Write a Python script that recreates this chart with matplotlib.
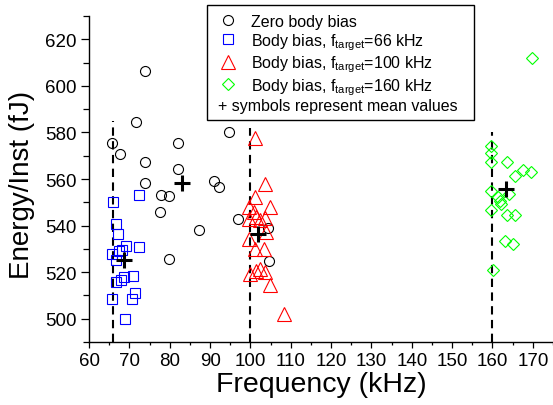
import matplotlib
matplotlib.use("Agg")
import matplotlib.pyplot as plt
from matplotlib.lines import Line2D
from matplotlib.patches import Rectangle
from matplotlib.ticker import MultipleLocator

plt.rcParams["font.family"] = ["Liberation Sans", "DejaVu Sans"]
plt.rcParams["mathtext.fontset"] = "custom"
plt.rcParams["mathtext.rm"] = "Liberation Sans"
plt.rcParams["mathtext.it"] = "Liberation Sans:italic"
plt.rcParams["mathtext.bf"] = "Liberation Sans:bold"

# Zero body bias (open circles)
zero_x = [73.8, 71.7, 65.7, 67.7, 73.8, 82.1, 82.1, 73.8, 94.6, 91.0,
          92.3, 77.9, 79.8, 77.7, 87.2, 79.7, 97.0, 104.4, 104.6]
zero_y = [606.5, 584.4, 575.6, 570.6, 567.3, 575.5, 564.4, 558.2, 580.3, 559.2,
          556.8, 553.2, 552.6, 545.9, 538.2, 525.5, 542.8, 538.8, 524.9]

# Body bias, f_target = 66 kHz (blue squares)
bb66_x = [65.9, 72.5, 66.6, 67.2, 65.8, 66.7, 67.4, 68.2, 69.2, 72.5,
          66.6, 68.0, 68.6, 70.8, 65.8, 70.7, 71.5, 69.0]
bb66_y = [550.3, 553.2, 540.7, 536.4, 527.8, 525.3, 529.0, 529.6, 531.1, 530.9,
          515.6, 516.8, 518.0, 518.2, 508.4, 508.4, 511.2, 500.0]

# Body bias, f_target = 100 kHz (red triangles)
bb100_x = [101.1, 103.5, 101.2, 104.8, 99.6, 100.9, 101.5, 102.3, 103.5, 99.6,
           103.9, 99.6, 101.1, 103.4, 99.8, 101.5, 102.5, 103.7, 104.8, 108.4]
bb100_y = [577.6, 557.9, 552.2, 548.2, 548.2, 545.7, 543.8, 542.3, 543.1, 542.8,
           537.1, 534.2, 529.9, 529.9, 519.1, 520.6, 521.3, 520.2, 514.5, 501.9]

# Body bias, f_target = 160 kHz (green diamonds)
bb160_x = [159.6, 159.6, 159.6, 163.7, 165.5, 167.6, 169.6, 159.6, 161.4, 161.8,
           162.2, 164.0, 159.6, 163.7, 165.7, 163.1, 165.1, 160.2, 169.7]
bb160_y = [574.4, 571.3, 567.3, 567.3, 561.5, 563.7, 563.0, 555.0, 552.2, 550.7,
           549.3, 553.6, 546.7, 544.6, 544.6, 533.5, 532.1, 521.0, 611.8]

# mean values (+ symbols)
mean_x = [83.0, 68.6, 102.0, 163.4]
mean_y = [558.5, 525.3, 536.4, 555.8]

# target frequencies (dashed lines) and where each line stops
target_freqs = [66, 100, 160]
target_tops = [585, 582, 580]

fig = plt.figure(figsize=(5.53, 4.06), dpi=100)
ax = fig.add_axes([0.161, 0.155, 0.839, 0.803])

for xv, top in zip(target_freqs, target_tops):
    ax.plot([xv, xv], [490, top], color="black", lw=1.5, ls=(0, (4, 2.6)), zorder=1)

ax.plot(zero_x, zero_y, "o", mfc="none", mec="black", ms=7.2, mew=0.8, zorder=2)
ax.plot(bb66_x, bb66_y, "s", mfc="none", mec="blue", ms=6.7, mew=0.8, zorder=2)
ax.plot(bb100_x, bb100_y, "^", mfc="none", mec="red", ms=9.4, mew=0.8, zorder=2)
ax.plot(bb160_x, bb160_y, "D", mfc="none", mec="#00ff00", ms=6.6, mew=0.8, zorder=2)
ax.plot(mean_x, mean_y, "+", color="black", ms=12, mew=2.2, zorder=3)

ax.set_xlim(60, 175)
ax.set_ylim(490, 630)
ax.xaxis.set_major_locator(MultipleLocator(10))
ax.xaxis.set_minor_locator(MultipleLocator(5))
ax.yaxis.set_minor_locator(MultipleLocator(10))
ax.set_yticks([500, 520, 540, 560, 580, 600, 620])

ax.spines["top"].set_visible(False)
ax.spines["right"].set_visible(False)
for side in ["left", "bottom"]:
    ax.spines[side].set_linewidth(1.0)

ax.tick_params(axis="x", which="major", direction="out", length=4, width=0.9,
               labelsize=13.5, pad=3)
ax.tick_params(axis="x", which="minor", direction="out", length=2.5, width=0.9)
ax.tick_params(axis="y", which="major", direction="out", length=6, width=0.9,
               labelsize=13.5, pad=3)
ax.tick_params(axis="y", which="minor", direction="out", length=4, width=0.9)

ax.set_xlabel("Frequency (kHz)", fontsize=20.5)
ax.set_ylabel("Energy/Inst (fJ)", fontsize=20)
ax.xaxis.set_label_coords(0.5, -0.088)
ax.yaxis.set_label_coords(-0.117, 0.485)

# legend: four marker entries, frame and the last text line drawn separately
handles = [
    Line2D([], [], marker="o", ls="none", mfc="none", mec="black", ms=7.2, mew=0.8),
    Line2D([], [], marker="s", ls="none", mfc="none", mec="blue", ms=6.7, mew=0.8),
    Line2D([], [], marker="^", ls="none", mfc="none", mec="red", ms=9.4, mew=0.8),
    Line2D([], [], marker="D", ls="none", mfc="none", mec="#00ff00", ms=6.6, mew=0.8),
]
labels = [
    "Zero body bias",
    r"Body bias, f$_{\rm target}$=66 kHz",
    r"Body bias, f$_{\rm target}$=100 kHz",
    r"Body bias, f$_{\rm target}$=160 kHz",
]
fig.legend(handles, labels, loc="upper left",
           bbox_to_anchor=(220 / 553, 1 - 15 / 406), bbox_transform=fig.transFigure,
           frameon=False, fontsize=11.5, handlelength=1.0, handletextpad=0.94,
           borderpad=0, borderaxespad=0, labelspacing=0.12)
fig.text(218 / 553, 1 - 107 / 406, "+ symbols represent mean values",
         fontsize=11.5, va="center", ha="left")
fig.patches.append(Rectangle((207 / 553, 1 - 121 / 406), (474 - 207) / 553, (121 - 6) / 406,
                             transform=fig.transFigure, fill=False, lw=1.0, ec="black"))

fig.savefig("out.png", dpi=100)
